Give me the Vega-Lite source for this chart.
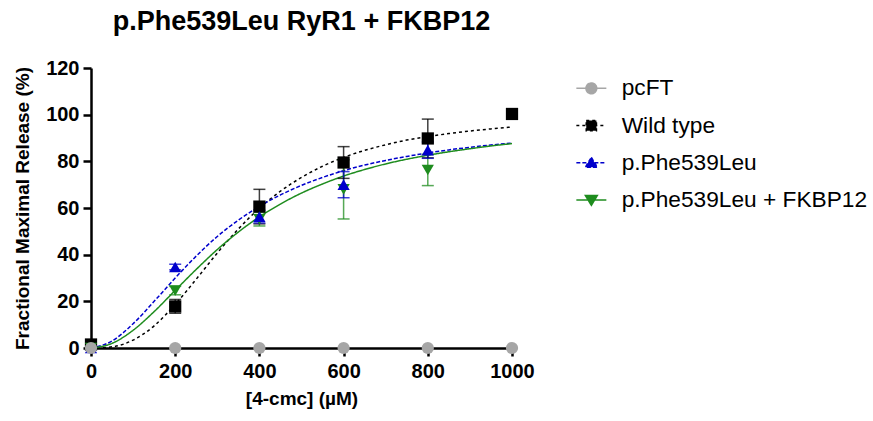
{
  "$schema": "https://vega.github.io/schema/vega-lite/v6.json",
  "width": 421,
  "height": 280,
  "autosize": {"type": "none"},
  "padding": {"left": 91, "top": 68, "right": 361, "bottom": 73},
  "background": "white",
  "config": {
    "font": "Liberation Sans",
    "view": {"stroke": null},
    "axis": {
      "grid": false,
      "domainColor": "black",
      "domainWidth": 2.5,
      "tickColor": "black",
      "tickWidth": 2.5,
      "tickSize": 8,
      "labelFlush": false,
      "labelFont": "Liberation Sans",
      "labelFontWeight": "bold",
      "labelFontSize": 20,
      "labelColor": "black",
      "titleFont": "Liberation Sans",
      "titleFontWeight": "bold",
      "titleFontSize": 19,
      "titleColor": "black"
    }
  },
  "title": {
    "text": "p.Phe539Leu RyR1 + FKBP12",
    "fontSize": 27,
    "fontWeight": "bold",
    "font": "Liberation Sans",
    "color": "black",
    "anchor": "middle",
    "offset": 22
  },
  "datasets": {
    "curves": [
      {"s": "Wild type", "x": 0, "y": 0}, {"s": "Wild type", "x": 50, "y": 0.5}, {"s": "Wild type", "x": 100, "y": 3.4}, {"s": "Wild type", "x": 150, "y": 9.5}, {"s": "Wild type", "x": 200, "y": 18.7}, {"s": "Wild type", "x": 250, "y": 29.5}, {"s": "Wild type", "x": 300, "y": 40.7}, {"s": "Wild type", "x": 350, "y": 51.0}, {"s": "Wild type", "x": 400, "y": 59.9}, {"s": "Wild type", "x": 450, "y": 67.2}, {"s": "Wild type", "x": 500, "y": 73.1}, {"s": "Wild type", "x": 550, "y": 77.9}, {"s": "Wild type", "x": 600, "y": 81.7}, {"s": "Wild type", "x": 650, "y": 84.7}, {"s": "Wild type", "x": 700, "y": 87.1}, {"s": "Wild type", "x": 750, "y": 89.1}, {"s": "Wild type", "x": 800, "y": 90.6}, {"s": "Wild type", "x": 850, "y": 91.9}, {"s": "Wild type", "x": 900, "y": 93.0}, {"s": "Wild type", "x": 950, "y": 93.9}, {"s": "Wild type", "x": 1000, "y": 94.7},
      {"s": "p.Phe539Leu", "x": 0, "y": 0}, {"s": "p.Phe539Leu", "x": 50, "y": 3.0}, {"s": "p.Phe539Leu", "x": 100, "y": 10.4}, {"s": "p.Phe539Leu", "x": 150, "y": 20.0}, {"s": "p.Phe539Leu", "x": 200, "y": 30.0}, {"s": "p.Phe539Leu", "x": 250, "y": 39.4}, {"s": "p.Phe539Leu", "x": 300, "y": 47.8}, {"s": "p.Phe539Leu", "x": 350, "y": 54.8}, {"s": "p.Phe539Leu", "x": 400, "y": 60.7}, {"s": "p.Phe539Leu", "x": 450, "y": 65.6}, {"s": "p.Phe539Leu", "x": 500, "y": 69.7}, {"s": "p.Phe539Leu", "x": 550, "y": 73.1}, {"s": "p.Phe539Leu", "x": 600, "y": 76.0}, {"s": "p.Phe539Leu", "x": 650, "y": 78.4}, {"s": "p.Phe539Leu", "x": 700, "y": 80.4}, {"s": "p.Phe539Leu", "x": 750, "y": 82.1}, {"s": "p.Phe539Leu", "x": 800, "y": 83.6}, {"s": "p.Phe539Leu", "x": 850, "y": 84.9}, {"s": "p.Phe539Leu", "x": 900, "y": 86.0}, {"s": "p.Phe539Leu", "x": 950, "y": 87.0}, {"s": "p.Phe539Leu", "x": 1000, "y": 87.8},
      {"s": "p.Phe539Leu + FKBP12", "x": 0, "y": 0}, {"s": "p.Phe539Leu + FKBP12", "x": 50, "y": 2.0}, {"s": "p.Phe539Leu + FKBP12", "x": 100, "y": 7.6}, {"s": "p.Phe539Leu + FKBP12", "x": 150, "y": 15.6}, {"s": "p.Phe539Leu + FKBP12", "x": 200, "y": 24.7}, {"s": "p.Phe539Leu + FKBP12", "x": 250, "y": 33.7}, {"s": "p.Phe539Leu + FKBP12", "x": 300, "y": 42.2}, {"s": "p.Phe539Leu + FKBP12", "x": 350, "y": 49.7}, {"s": "p.Phe539Leu + FKBP12", "x": 400, "y": 56.2}, {"s": "p.Phe539Leu + FKBP12", "x": 450, "y": 61.7}, {"s": "p.Phe539Leu + FKBP12", "x": 500, "y": 66.4}, {"s": "p.Phe539Leu + FKBP12", "x": 550, "y": 70.3}, {"s": "p.Phe539Leu + FKBP12", "x": 600, "y": 73.7}, {"s": "p.Phe539Leu + FKBP12", "x": 650, "y": 76.5}, {"s": "p.Phe539Leu + FKBP12", "x": 700, "y": 78.9}, {"s": "p.Phe539Leu + FKBP12", "x": 750, "y": 80.9}, {"s": "p.Phe539Leu + FKBP12", "x": 800, "y": 82.6}, {"s": "p.Phe539Leu + FKBP12", "x": 850, "y": 84.1}, {"s": "p.Phe539Leu + FKBP12", "x": 900, "y": 85.4}, {"s": "p.Phe539Leu + FKBP12", "x": 950, "y": 86.6}, {"s": "p.Phe539Leu + FKBP12", "x": 1000, "y": 87.6}
    ],
    "points": [
      {"s": "Wild type", "x": 0, "y": 1.5, "lo": 0.5, "hi": 2.5},
      {"s": "Wild type", "x": 200, "y": 17.8, "lo": 14.9, "hi": 20.8},
      {"s": "Wild type", "x": 400, "y": 60.6, "lo": 53.2, "hi": 68.0},
      {"s": "Wild type", "x": 600, "y": 79.5, "lo": 72.7, "hi": 86.3},
      {"s": "Wild type", "x": 800, "y": 89.8, "lo": 81.5, "hi": 98.1},
      {"s": "Wild type", "x": 1000, "y": 100.3},
      {"s": "p.Phe539Leu + FKBP12", "x": 0, "y": 0},
      {"s": "p.Phe539Leu + FKBP12", "x": 200, "y": 24.6, "lo": 22.8, "hi": 26.4},
      {"s": "p.Phe539Leu + FKBP12", "x": 400, "y": 55.2, "lo": 52.3, "hi": 58.1},
      {"s": "p.Phe539Leu + FKBP12", "x": 600, "y": 68.0, "lo": 55.3, "hi": 80.7},
      {"s": "p.Phe539Leu + FKBP12", "x": 800, "y": 76.3, "lo": 69.6, "hi": 83.0},
      {"s": "p.Phe539Leu", "x": 0, "y": 0},
      {"s": "p.Phe539Leu", "x": 200, "y": 34.7, "lo": 33.5, "hi": 35.9},
      {"s": "p.Phe539Leu", "x": 400, "y": 56.3, "lo": 53.6, "hi": 59.0},
      {"s": "p.Phe539Leu", "x": 600, "y": 70.0, "lo": 64.4, "hi": 75.6},
      {"s": "p.Phe539Leu", "x": 800, "y": 84.8, "lo": 81.3, "hi": 88.3},
      {"s": "pcFT", "x": 0, "y": 0},
      {"s": "pcFT", "x": 200, "y": 0},
      {"s": "pcFT", "x": 400, "y": 0},
      {"s": "pcFT", "x": 600, "y": 0},
      {"s": "pcFT", "x": 800, "y": 0},
      {"s": "pcFT", "x": 1000, "y": 0}
    ]
  },
  "layer": [
    {
      "data": {"name": "curves"},
      "mark": {"type": "line", "strokeWidth": 1.5, "interpolate": "monotone"},
      "encoding": {
        "x": {"field": "x", "type": "quantitative", "scale": {"domain": [0, 1000], "nice": false}, "axis": {"title": "[4-cmc] (µM)", "values": [0, 200, 400, 600, 800, 1000], "format": "d", "labelPadding": 5, "titlePadding": 8}},
        "y": {"field": "y", "type": "quantitative", "scale": {"domain": [0, 120], "nice": false}, "axis": {"title": "Fractional Maximal Release (%)", "values": [0, 20, 40, 60, 80, 100, 120], "format": "d", "labelPadding": 4, "titlePadding": 13}},
        "color": {
          "field": "s", "type": "nominal",
          "scale": {"domain": ["pcFT", "Wild type", "p.Phe539Leu", "p.Phe539Leu + FKBP12"], "range": ["#a6a6a6", "#000000", "#0000cc", "#1e8c1e"]},
          "legend": {
            "orient": "none", "legendX": 489, "legendY": 9, "title": null,
            "labelFontSize": 22.7, "labelFont": "Liberation Sans", "labelColor": "black", "labelLimit": 400,
            "symbolSize": 144, "labelOffset": 19, "rowPadding": 13.2, "padding": 0,
            "symbolStrokeWidth": 1.5, "symbolOpacity": 1,
            "encode": {"symbols": {"update": {
              "shape": {"signal": "datum.value === 'pcFT' ? 'M-2.5,0H2.5M0.9,0A0.9,0.9,0,1,1,-0.9,0A0.9,0.9,0,1,1,0.9,0Z' : datum.value === 'Wild type' ? 'M-2.5,0H2.5M-0.85,-0.85H0.85V0.85H-0.85Z' : datum.value === 'p.Phe539Leu' ? 'M-2.5,0H2.5M0,-0.9L1,0.75L-1,0.75Z' : 'M-2.5,0H2.5M0,0.9L1,-0.75L-1,-0.75Z'"},
              "fill": {"signal": "scale('color', datum.value)"},
              "stroke": {"signal": "scale('color', datum.value)"},
              "strokeDash": {"signal": "datum.value === 'Wild type' ? [3,3] : datum.value === 'p.Phe539Leu' ? [4,2] : [1,0]"}
            }}}
          }
        },
        "strokeDash": {
          "field": "s", "type": "nominal",
          "scale": {"domain": ["Wild type", "pcFT", "p.Phe539Leu", "p.Phe539Leu + FKBP12"], "range": [[3, 3], [1, 0], [4, 2], [1, 0]]},
          "legend": null
        }
      }
    },
    {
      "data": {"name": "points"},
      "transform": [{"filter": "isValid(datum.lo)"}],
      "mark": {"type": "rule", "strokeWidth": 1.5, "opacity": 0.75},
      "encoding": {
        "x": {"field": "x", "type": "quantitative"},
        "y": {"field": "lo", "type": "quantitative"},
        "y2": {"field": "hi"},
        "color": {"field": "s", "type": "nominal"}
      }
    },
    {
      "data": {"name": "points"},
      "transform": [{"filter": "isValid(datum.lo)"}],
      "mark": {"type": "tick", "orient": "horizontal", "size": 12, "thickness": 1.5, "opacity": 0.75},
      "encoding": {
        "x": {"field": "x", "type": "quantitative"},
        "y": {"field": "lo", "type": "quantitative"},
        "color": {"field": "s", "type": "nominal"}
      }
    },
    {
      "data": {"name": "points"},
      "transform": [{"filter": "isValid(datum.hi)"}],
      "mark": {"type": "tick", "orient": "horizontal", "size": 12, "thickness": 1.5, "opacity": 0.75},
      "encoding": {
        "x": {"field": "x", "type": "quantitative"},
        "y": {"field": "hi", "type": "quantitative"},
        "color": {"field": "s", "type": "nominal"}
      }
    },
    {
      "data": {"name": "points"},
      "mark": {"type": "point", "filled": true, "opacity": 1, "size": 150},
      "encoding": {
        "x": {"field": "x", "type": "quantitative"},
        "y": {"field": "y", "type": "quantitative"},
        "color": {"field": "s", "type": "nominal"},
        "shape": {
          "field": "s", "type": "nominal",
          "scale": {"domain": ["Wild type", "pcFT", "p.Phe539Leu", "p.Phe539Leu + FKBP12"], "range": ["square", "circle", "triangle-up", "triangle-down"]},
          "legend": null
        }
      }
    }
  ]
}
